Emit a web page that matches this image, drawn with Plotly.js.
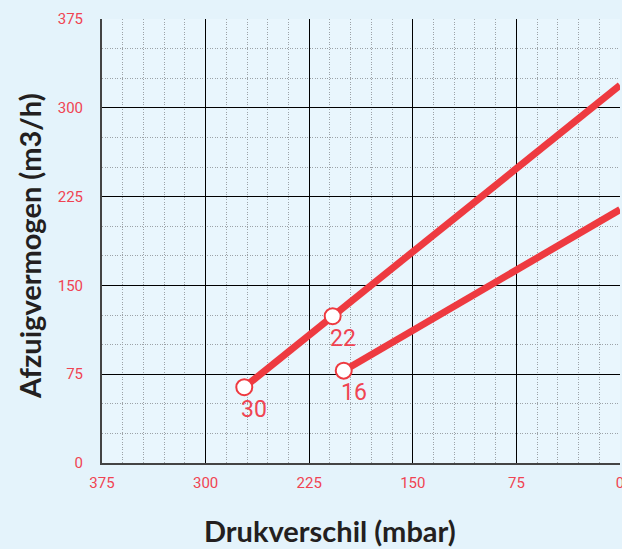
<!DOCTYPE html>
<html>
<head>
<meta charset="utf-8">
<script src="https://cdn.plot.ly/plotly-3.0.1.min.js"></script>
<style>html,body{margin:0;padding:0;background:#e4f3fb;}</style>
</head>
<body>
<div id="chart" style="width:622px;height:549px;"></div>
<script>
// Data
const line1X = [272, 208, 0];
const line1Y = [64, 124, 319];
const line2X = [200, 0];
const line2Y = [78, 214];
const pointX = [272, 208, 200];
const pointY = [64, 124, 78];
const pointLabels = ['30', '22', '16'];
const tickVals = [0, 75, 150, 225, 300, 375];
const tickText = ['0', '75', '150', '225', '300', '375'];
const xTitle = 'Drukverschil (mbar)';
const yTitle = 'Afzuigvermogen (m3/h)';

const red = '#ee3a40';
const labelRed = '#f04452';
const titleFont = {family: 'Lato', size: 29, color: '#231f20', weight: 700};

const traces = [
  {x: line1X, y: line1Y, mode: 'lines', line: {color: red, width: 7}, hoverinfo: 'skip'},
  {x: line2X, y: line2Y, mode: 'lines', line: {color: red, width: 7}, hoverinfo: 'skip'},
  {x: pointX, y: pointY, mode: 'markers', marker: {size: 16, color: '#ffffff', line: {color: red, width: 2}}, hoverinfo: 'skip'}
];

const annotations = pointX.map((x, i) => ({
  x: x, y: pointY[i], xref: 'x', yref: 'y', text: pointLabels[i], showarrow: false,
  xanchor: 'center', yanchor: 'middle', xshift: 10, yshift: -22,
  font: {family: 'Roboto', size: 23, color: labelRed}
}));
annotations.push({
  xref: 'paper', yref: 'paper', x: 0.44, y: -0.151, text: xTitle, showarrow: false,
  xanchor: 'center', yanchor: 'middle', font: titleFont
});
annotations.push({
  xref: 'paper', yref: 'paper', x: -0.139, y: 0.489, text: yTitle, showarrow: false,
  textangle: -90, xanchor: 'center', yanchor: 'middle', font: titleFont
});

const axisCommon = {
  tickvals: tickVals, ticktext: tickText,
  showgrid: true, gridcolor: '#000000', gridwidth: 1,
  zeroline: false, showline: true, linecolor: '#444444', linewidth: 2,
  ticks: '', tickfont: {family: 'Roboto', size: 15, color: labelRed},
  ticklabeloverflow: 'allow',
  automargin: false, fixedrange: true
};

const layout = {
  width: 622, height: 549,
  margin: {l: 102, r: 2, t: 19, b: 86, pad: 0},
  paper_bgcolor: '#e4f3fb', plot_bgcolor: '#e9f6fd',
  showlegend: false,
  xaxis: Object.assign({}, axisCommon, {
    range: [375, 0],
    ticklabelstandoff: 5,
    minor: {dtick: 15, showgrid: true, gridcolor: '#9da3a8', griddash: '1px,1.5px', gridwidth: 1}
  }),
  yaxis: Object.assign({}, axisCommon, {
    range: [0, 375],
    ticklabelstandoff: 14,
    minor: {dtick: 25, showgrid: true, gridcolor: '#9da3a8', griddash: '1px,1.5px', gridwidth: 1}
  }),
  annotations: annotations
};

Plotly.newPlot('chart', traces, layout, {displayModeBar: false, staticPlot: true});
</script>
</body>
</html>
